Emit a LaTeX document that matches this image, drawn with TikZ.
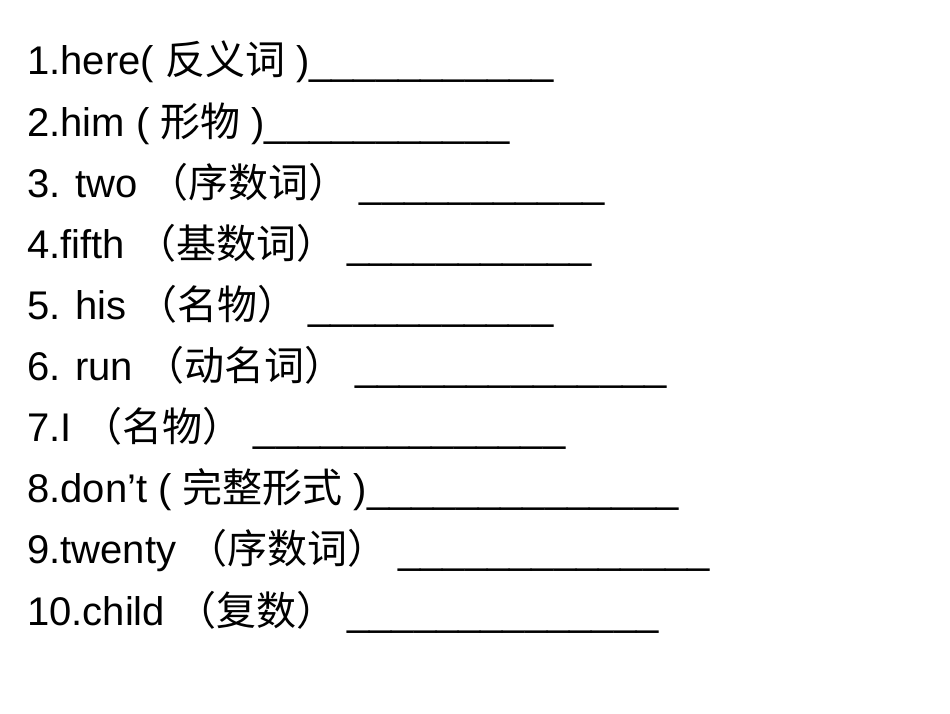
\documentclass[tikz,border=0pt]{standalone}
\usepackage{fontspec}
\setmainfont{Liberation Sans}
\newfontfamily\cjk{Noto Sans CJK SC}
\newcommand\ubl{\_\_\_\_\_\_\_\_\_\_\_}
\newcommand\ubm{\_\_\_\_\_\_\_\_\_\_\_\_\_\_}
\begin{document}
\begin{tikzpicture}[x=1pt,y=1pt,line/.style={anchor=base west,inner sep=0pt,font=\fontsize{40}{44}\selectfont}]
\useasboundingbox (0,0) rectangle (950,713);
\node[line] (l1) at (27,713-75) {1.here( {\cjk 反义词} )\ubl};
\node[line] (l2) at (27,713-136.1) {2.him ( {\cjk 形物} )\ubl};
\node[line] (l3) at (27,713-197.2) {3. two {\cjk （序数词）} \ubl};
\node[line] (l4) at (27,713-258.3) {4.fifth {\cjk （基数词）} \ubl};
\node[line] (l5) at (27,713-319.4) {5. his {\cjk （名物）} \ubl};
\node[line] (l6) at (27,713-380.5) {6. run {\cjk （动名词）} \ubm};
\node[line] (l7) at (27,713-441.6) {7.I {\cjk （名物）} \ubm};
\node[line] (l8) at (27,713-502.7) {8.don’t ( {\cjk 完整形式} )\ubm};
\node[line] (l9) at (27,713-563.8) {9.twenty {\cjk （序数词）} \ubm};
\node[line] (l10) at (27,713-625) {10.child {\cjk （复数）} \ubm};
\end{tikzpicture}
\end{document}
